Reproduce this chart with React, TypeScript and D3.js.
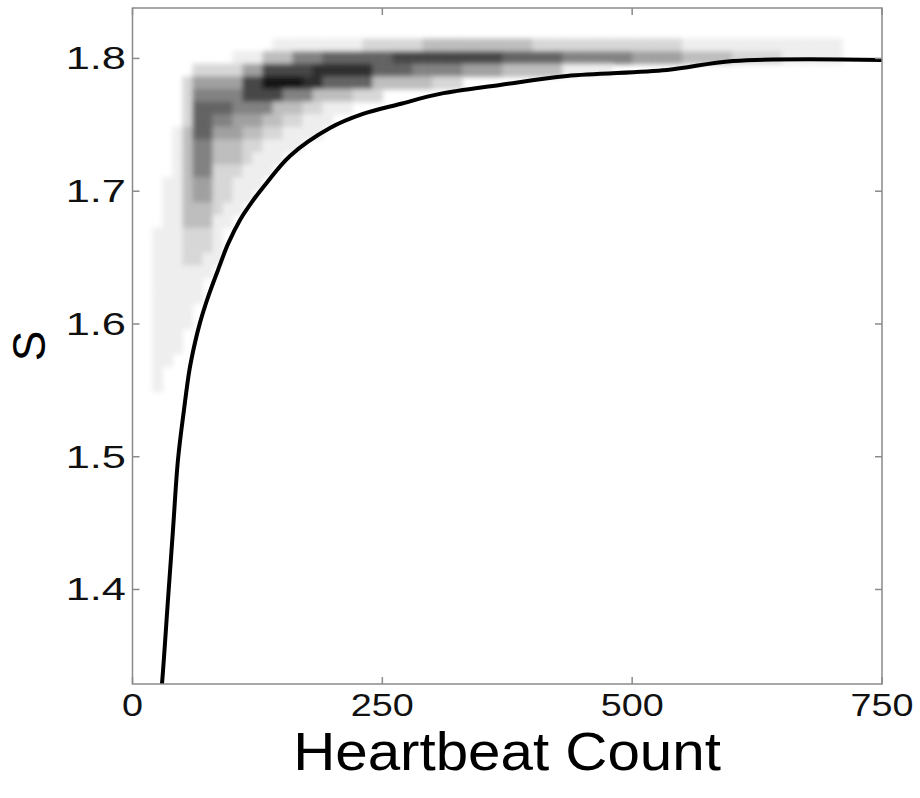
import React from "react";
import * as d3 from "d3";

// ---- axis ticks ----
const xTicks = [0, 250, 500, 750];
const yTicks = [1.4, 1.5, 1.6, 1.7, 1.8];
const xDomain = [0, 750];
const yDomain = [1.3288, 1.838];

// ---- black curve ----
const lineX = [27.8, 29.5, 35.5, 40.5, 45.5, 51.5, 57.0, 62.0, 67.5, 76.0, 85.6, 95.6, 107.6, 119.6, 132.6, 157.6, 197.6, 230.6, 267.7, 307.7, 367.8, 434.8, 534.9, 600.9, 751];
const lineY = [1.3168, 1.3288, 1.3921, 1.4448, 1.4976, 1.5352, 1.5654, 1.5842, 1.6008, 1.6211, 1.6407, 1.6603, 1.6784, 1.692, 1.7047, 1.7266, 1.7476, 1.7582, 1.7657, 1.7733, 1.78, 1.7868, 1.7913, 1.7981, 1.7989];

// ---- density heatmap: bins and run-length rows (level*count), top row first ----
const binX0 = 20;
const binXStep = 10;
const binYTop = 1.815;
const binYStep = 0.0095;
const densityRows = [
  "0*12,1*3,1*6,2*6,3*11,2*15,1*16",
  "0*8,1*3,3*3,5*3,6*7,7*11,6*6,5*7,4*5,3*5,2*5,1*6",
  "0*4,2*5,4*2,7*5,8*6,6*4,5*5,4*4,3*6,1*5",
  "0*3,2*1,4*5,7*2,9*4,8*2,6*5,3*6,2*3",
  "0*3,2*1,5*5,7*4,5*3,3*4,2*3",
  "0*3,2*1,6*4,5*4,3*3,2*2,1*3",
  "0*3,2*1,6*2,5*2,4*3,3*2,2*2,1*3",
  "0*2,1*1,3*1,6*2,4*3,3*2,2*2,1*4",
  "0*2,1*1,3*1,5*2,3*3,2*2,1*4",
  "0*2,1*1,3*1,5*2,3*3,2*1,1*3",
  "0*2,1*1,3*1,5*2,2*3,1*3",
  "0*1,1*2,3*1,4*2,2*2,1*3",
  "0*1,1*2,3*1,4*2,2*2,1*2",
  "0*1,1*2,3*3,2*1,1*2",
  "0*1,1*2,3*3,1*2",
  "1*3,2*3,1*1",
  "1*3,2*3,1*1",
  "1*3,2*2,1*2",
  "1*6",
  "1*5",
  "1*5",
  "1*4",
  "1*4",
  "1*3",
  "1*3",
  "1*2",
  "1*1",
  "1*1",
];
const grayLevels = [255, 238, 215, 190, 160, 130, 100, 70, 45, 20];

function decodeRow(s: string): number[] {
  const out: number[] = [];
  s.split(",").forEach((seg) => {
    const [l, n] = seg.split("*").map(Number);
    for (let i = 0; i < n; i++) out.push(l);
  });
  return out;
}

const W = 920;
const H = 798;
const left = 132.5;
const right = 882;
const top = 8;
const bottom = 684;

export default function App() {
  const x = d3.scaleLinear().domain(xDomain).range([left, right]);
  const y = d3.scaleLinear().domain(yDomain).range([bottom, top]);

  const cells: React.ReactElement[] = [];
  densityRows.forEach((rowStr, r) => {
    const levels = decodeRow(rowStr);
    const y0 = y(binYTop - r * binYStep);
    const y1 = y(binYTop - (r + 1) * binYStep);
    levels.forEach((lv, c) => {
      if (lv <= 0) return;
      const x0 = x(binX0 + c * binXStep);
      const x1 = x(binX0 + (c + 1) * binXStep);
      const g = grayLevels[lv];
      cells.push(
        <rect key={`${r}-${c}`} x={x0} y={y0} width={x1 - x0 + 0.6} height={y1 - y0 + 0.6}
          fill={`rgb(${g},${g},${g})`} />
      );
    });
  });

  const pts: [number, number][] = lineX.map((v, i) => [v, lineY[i]]);
  const path = d3.line<[number, number]>().x((d) => x(d[0])).y((d) => y(d[1])).curve(d3.curveCatmullRom.alpha(0.5))(pts) || "";

  const axisColor = "#8a8a8a";
  const tickLen = 7;
  const font = "'Liberation Sans', Arial, sans-serif";

  return (
    <svg width={W} height={H} style={{ position: "absolute", left: 0, top: 0, background: "#fff" }}>
      <defs>
        <clipPath id="plotClip">
          <rect x={left} y={top} width={right - left} height={bottom - top} />
        </clipPath>
        <filter id="soft" x="-5%" y="-5%" width="110%" height="110%">
          <feGaussianBlur stdDeviation="2.5" />
        </filter>
      </defs>
      <rect x={0} y={0} width={W} height={H} fill="#fff" />
      <g clipPath="url(#plotClip)">
        <g filter="url(#soft)">{cells}</g>
        <path d={path} fill="none" stroke="#000" strokeWidth={4} strokeLinejoin="round" strokeLinecap="round" />
      </g>
      {/* frame */}
      <rect x={left} y={top} width={right - left} height={bottom - top} fill="none" stroke={axisColor} strokeWidth={1.5} />
      {xTicks.map((t) => (
        <g key={`xt${t}`}>
          <line x1={x(t)} x2={x(t)} y1={bottom} y2={bottom - tickLen} stroke={axisColor} strokeWidth={1.5} />
          <line x1={x(t)} x2={x(t)} y1={top} y2={top + tickLen} stroke={axisColor} strokeWidth={1.5} />
          <text transform={`translate(${x(t)},716) scale(1.18,1)`} textAnchor="middle" fontFamily={font} fontSize={32} fill="#111">
            {t}
          </text>
        </g>
      ))}
      {yTicks.map((t) => (
        <g key={`yt${t}`}>
          <line x1={left} x2={left + tickLen} y1={y(t)} y2={y(t)} stroke={axisColor} strokeWidth={1.5} />
          <line x1={right} x2={right - tickLen} y1={y(t)} y2={y(t)} stroke={axisColor} strokeWidth={1.5} />
          <text transform={`translate(126,${y(t) + 11}) scale(1.4,1)`} textAnchor="end" fontFamily={font} fontSize={31} fill="#111">
            {t.toFixed(1)}
          </text>
        </g>
      ))}
      <text transform={`translate(507,770) scale(1.1,1)`} textAnchor="middle" fontFamily={font} fontSize={53} fill="#000">
        Heartbeat Count
      </text>
      <text transform={`translate(45,346) rotate(-90)`} textAnchor="middle" fontFamily={font} fontSize={46} fill="#000">
        S
      </text>
    </svg>
  );
}
